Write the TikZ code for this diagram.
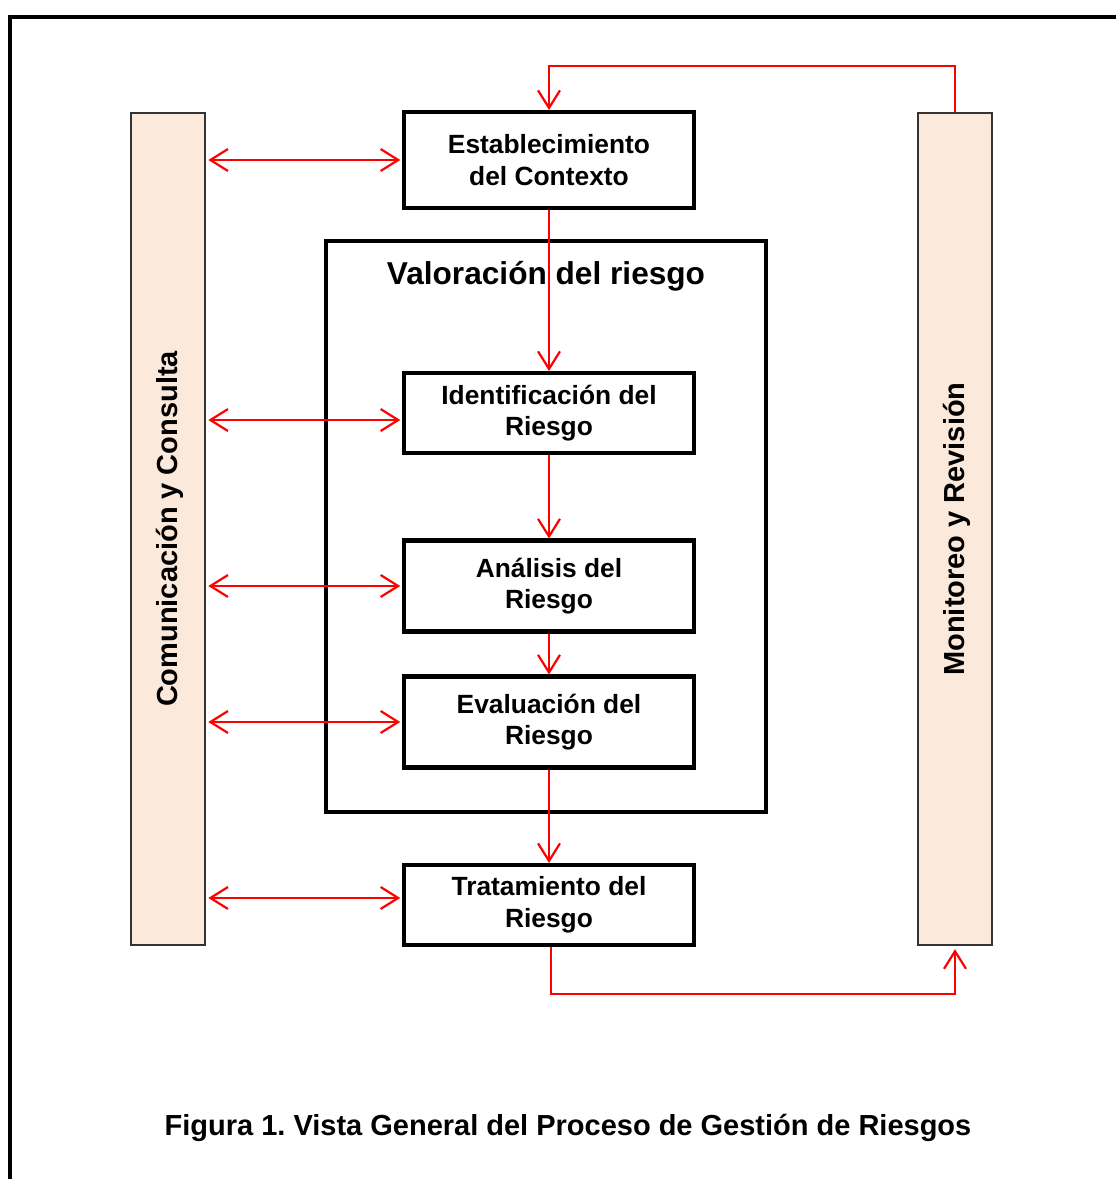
\documentclass[tikz,border=0pt]{standalone}
\usepackage{fontspec}
\setmainfont{Liberation Sans}
\usetikzlibrary{arrows.meta}
\definecolor{barfill}{HTML}{FBE9DB}
\definecolor{linkred}{HTML}{FF0000}

\tikzset{
    stepbox/.style={draw, line width=2.3pt, fill=white, minimum width=5.8cm,
        align=center, font=\bfseries\fontsize{15}{18}\selectfont},
    sidebar/.style={draw=black!80, line width=0.8pt, fill=barfill,
        minimum width=1.48cm, minimum height=16.64cm},
    barlabel/.style={rotate=90, font=\bfseries\fontsize{16.5}{20}\selectfont},
    link/.style={draw=linkred, line width=1.25pt, >={Straight Barb[length=10pt,width=12.5pt]}},
}

\begin{document}
\frenchspacing
\begin{tikzpicture}[x=0.02cm,y=-0.02cm]
    \useasboundingbox (0,0) rectangle (1116,1179);

% Outer frame
    \draw[line width=2.8pt] (10,1179) -- (10,17) -- (1116,17);

% Side bars
    \node[sidebar] (combar) at (168,529) {};
    \node[barlabel] (comtext) at (170,529) {Comunicación y Consulta};
    \node[sidebar] (monbar) at (955,529) {};
    \node[barlabel] (montext) at (957,529) {Monitoreo y Revisión};

% Assessment frame
    \node[draw, line width=2.3pt, minimum width=8.8cm, minimum height=11.42cm] (valora) at (546,526.5) {};
    \node[font=\bfseries\fontsize{18}{22}\selectfont] (valtitle) at (546,276) {Valoración del riesgo};

% Process steps
    \node[stepbox, minimum height=1.92cm] (contexto) at (549,160) {Establecimiento\\del Contexto};
    \node[stepbox, minimum height=1.6cm]  (ident)    at (549,413) {Identificación del\\Riesgo};
    \node[stepbox, minimum height=1.82cm] (analisis) at (549,586) {Análisis del\\Riesgo};
    \node[stepbox, minimum height=1.82cm] (evalua)   at (549,722) {Evaluación del\\Riesgo};
    \node[stepbox, minimum height=1.6cm]  (trata)    at (549,905) {Tratamiento del\\Riesgo};

% Flow down
    \draw[link,->] (contexto) -- (ident);
    \draw[link,->] (ident) -- (analisis);
    \draw[link,->] (analisis) -- (evalua);
    \draw[link,->] (evalua) -- (trata);

% Communication links
    \foreach \step/\dy in {contexto/0pt,ident/-4pt,analisis/0pt,evalua/0pt,trata/4pt}
        \draw[link,<->,shorten <=1.5pt,shorten >=1pt]
            ([yshift=\dy]combar.east |- \step.west) -- ([yshift=\dy]\step.west);

% Monitoring loop
    \draw[link,->] (monbar.north) -- ++(0,-46) -| (contexto.north);
    \draw[link,->,shorten >=2pt] ([xshift=1pt]trata.south) -- ++(0,47) -| (monbar.south);

% Caption
    \node[font=\bfseries\fontsize{16.5}{20}\selectfont] (caption) at (568,1128)
        {Figura 1. Vista General del Proceso de Gestión de Riesgos};
\end{tikzpicture}
\end{document}
